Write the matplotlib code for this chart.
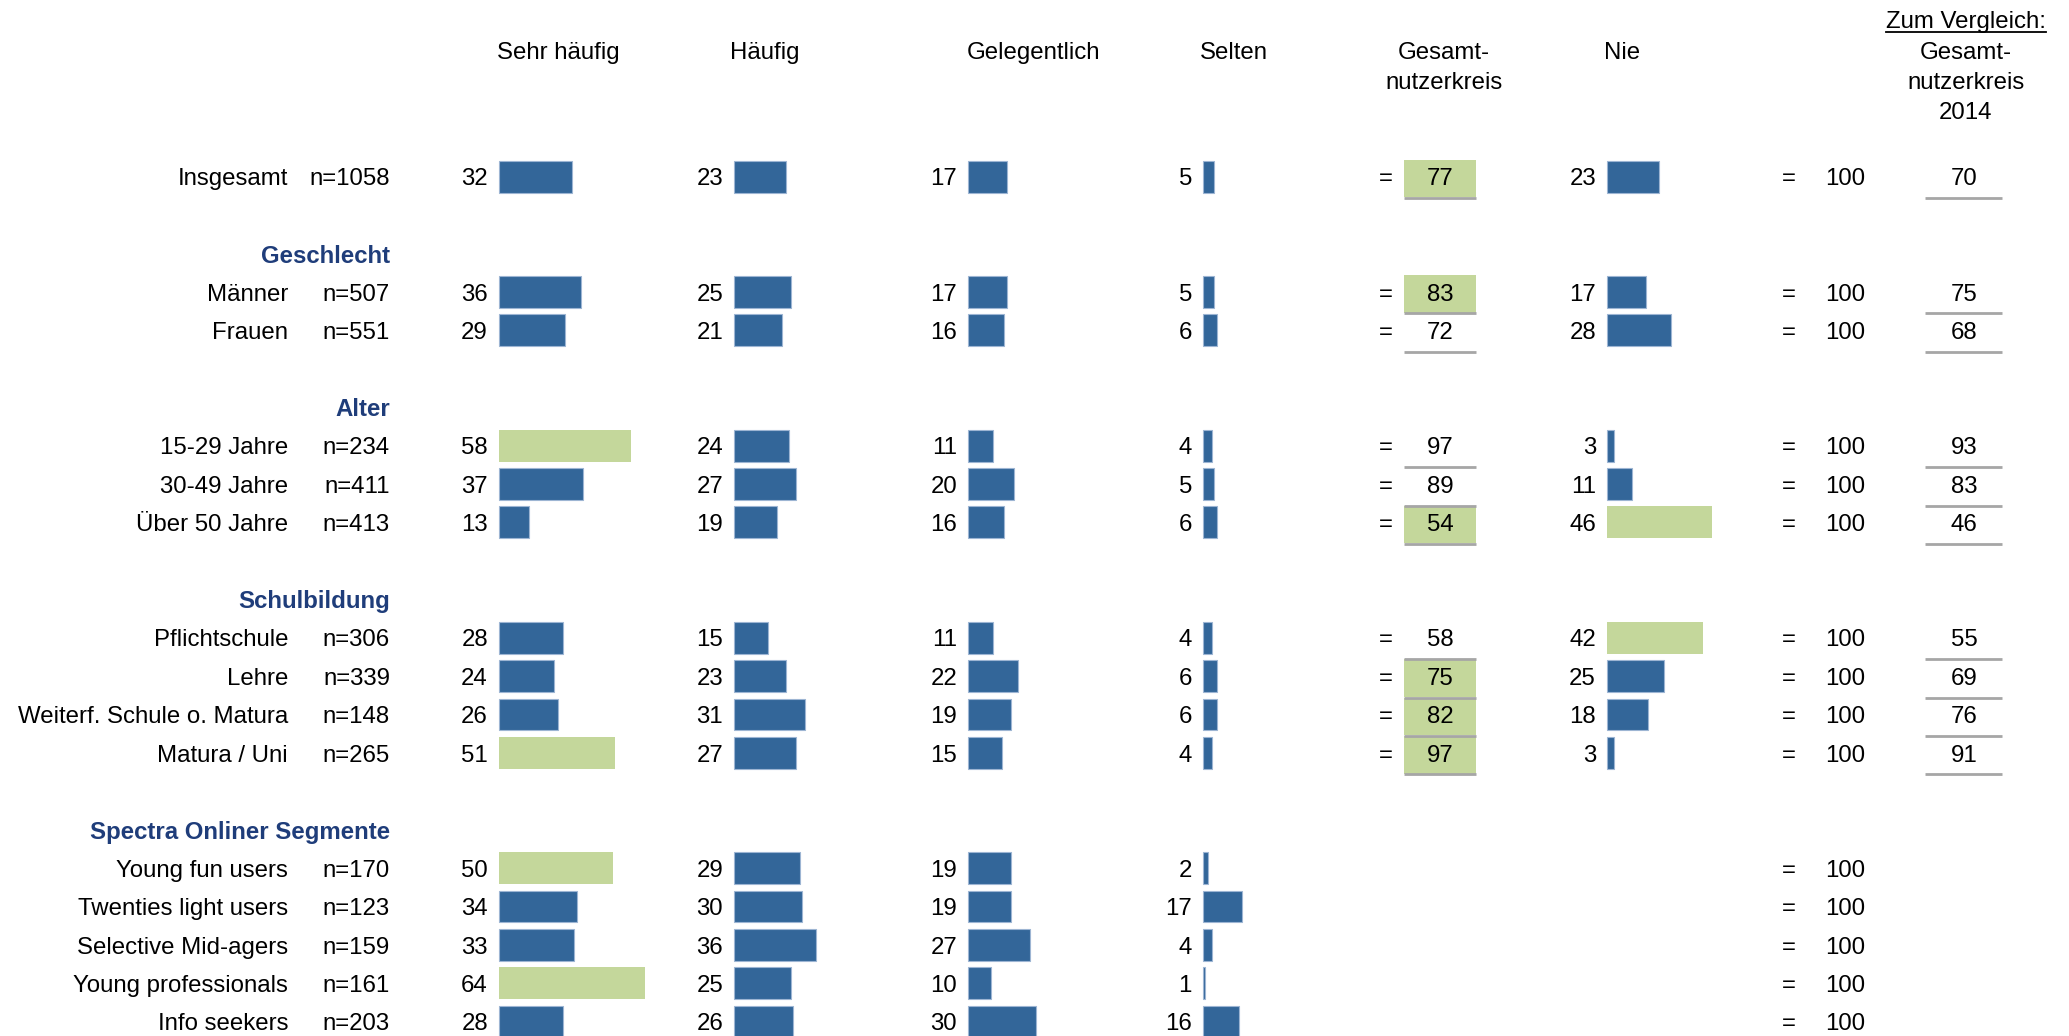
import matplotlib.pyplot as plt
from matplotlib.patches import Rectangle

plt.rcParams['font.family'] = ['Liberation Sans', 'DejaVu Sans']

# --- data -------------------------------------------------------------
groups = [None, 'Geschlecht', 'Alter', 'Schulbildung', 'Spectra Onliner Segmente']
group_rows = [
    ['Insgesamt'],
    ['Männer', 'Frauen'],
    ['15-29 Jahre', '30-49 Jahre', 'Über 50 Jahre'],
    ['Pflichtschule', 'Lehre', 'Weiterf. Schule o. Matura', 'Matura / Uni'],
    ['Young fun users', 'Twenties light users', 'Selective Mid-agers',
     'Young professionals', 'Info seekers'],
]
n_sizes = [1058, 507, 551, 234, 411, 413, 306, 339, 148, 265, 170, 123, 159, 161, 203]

sehr_haeufig = [32, 36, 29, 58, 37, 13, 28, 24, 26, 51, 50, 34, 33, 64, 28]
haeufig = [23, 25, 21, 24, 27, 19, 15, 23, 31, 27, 29, 30, 36, 25, 26]
gelegentlich = [17, 17, 16, 11, 20, 16, 11, 22, 19, 15, 19, 19, 27, 10, 30]
selten = [5, 5, 6, 4, 5, 6, 4, 6, 6, 4, 2, 17, 4, 1, 16]
gesamt = [77, 83, 72, 97, 89, 54, 58, 75, 82, 97, None, None, None, None, None]
nie = [23, 17, 28, 3, 11, 46, 42, 25, 18, 3, None, None, None, None, None]
gesamt_2014 = [70, 75, 68, 93, 83, 46, 55, 69, 76, 91, None, None, None, None, None]

# significant cells (highlighted in the source)
hl_sehr = [False, False, False, True, False, False, False, False, False, True,
           True, False, False, True, False]
hl_gesamt = [True, True, False, False, False, True, False, True, True, True,
             False, False, False, False, False]
hl_nie = [False, False, False, False, False, True, True, False, False, False,
          False, False, False, False, False]

# --- style ------------------------------------------------------------
BLUE = '#336699'
GREEN = '#C4D79B'
GREY = '#A6A6A6'
HEAD = '#1F3D7A'
FS = 17.3
PX_PER_PCT = 2.28      # bar length per percentage point (pixels)
BAR_H = 0.83
TY = 0.07              # small downward nudge for text

fig = plt.figure(figsize=(20.69, 10.36), dpi=100)
ax = fig.add_axes([0, 0, 1, 1])
ax.set_xlim(0, 2069)
ax.set_ylim(22.37, -4.60)
ax.axis('off')


def txt(x, y, s, **kw):
    kw.setdefault('va', 'center')
    kw.setdefault('fontsize', FS)
    return ax.text(x, y + TY, s, **kw)


# row positions (group header + blank line between groups)
row_y, head_y = [], []
y = 0
for g, rows in zip(groups, group_rows):
    if g is not None:
        y += 1
        head_y.append(y)
        y += 1
    for r in rows:
        row_y.append(y)
        y += 1

labels = [r for rows in group_rows for r in rows]

# column headers
hy = [-3.30, -2.51, -1.72]
txt(558, hy[0], 'Sehr häufig', ha='center')
txt(765, hy[0], 'Häufig', ha='center')
txt(1033, hy[0], 'Gelegentlich', ha='center')
txt(1234, hy[0], 'Selten', ha='center')
txt(1444, hy[0], 'Gesamt-', ha='center')
txt(1444, hy[1], 'nutzerkreis', ha='center')
txt(1622, hy[0], 'Nie', ha='center')
zv = txt(1966, -4.09, 'Zum Vergleich:', ha='center')
txt(1966, hy[0], 'Gesamt-', ha='center')
txt(1966, hy[1], 'nutzerkreis', ha='center')
txt(1966, hy[2], '2014', ha='center')

fig.canvas.draw()
bb = zv.get_window_extent().transformed(ax.transData.inverted())
ax.plot([bb.x0, bb.x1], [-3.76, -3.76], color='black', lw=1.3)

# group headers
for g, yy in zip([g for g in groups if g], head_y):
    txt(390, yy, g, ha='right', fontweight='bold', color=HEAD)

# row labels
for lab, n, yy in zip(labels, n_sizes, row_y):
    txt(288, yy, lab, ha='right')
    txt(390, yy, f'n={n}', ha='right')

# bar columns
bar_cols = [
    (sehr_haeufig, hl_sehr, 499),
    (haeufig, [False] * len(haeufig), 734),
    (gelegentlich, [False] * len(gelegentlich), 968),
    (selten, [False] * len(selten), 1203),
    (nie, hl_nie, 1607),
]
for vals, hls, x0 in bar_cols:
    for v, h, yy in zip(vals, hls, row_y):
        if v is None:
            continue
        ax.barh(yy, v * PX_PER_PCT, left=x0, height=BAR_H,
                color=GREEN if h else BLUE,
                edgecolor='none' if h else '#9DB5D3', linewidth=0.8)
        txt(x0 - 11, yy, str(v), ha='right')

# Gesamtnutzerkreis column
for v, h, yy in zip(gesamt, hl_gesamt, row_y):
    if v is None:
        continue
    txt(1386, yy, '=', ha='center')
    if h:
        ax.add_patch(Rectangle((1404, yy - 0.44), 72, 0.98,
                               facecolor=GREEN, edgecolor='none'))
    txt(1440, yy, str(v), ha='center')
    ax.plot([1404, 1476], [yy + 0.56, yy + 0.56], color=GREY, lw=2,
            solid_capstyle='butt')

# = 100 column
for yy in row_y:
    txt(1789, yy, '=', ha='center')
    txt(1845, yy, '100', ha='center')

# 2014 comparison column
for v, yy in zip(gesamt_2014, row_y):
    if v is None:
        continue
    txt(1964, yy, str(v), ha='center')
    ax.plot([1925, 2002], [yy + 0.56, yy + 0.56], color=GREY, lw=2,
            solid_capstyle='butt')

fig.savefig('out.png', dpi=100)
